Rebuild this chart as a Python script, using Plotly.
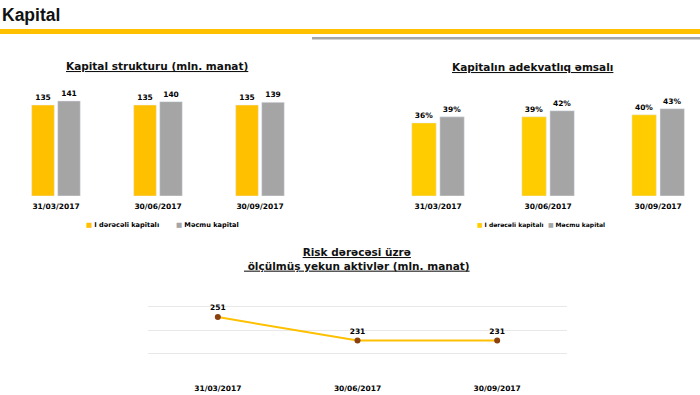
import plotly.graph_objects as go

dates = ["31/03/2017", "30/06/2017", "30/09/2017"]
tier1_capital = [135, 135, 135]
total_capital = [141, 140, 139]
tier1_ratio = [36, 39, 40]
total_ratio = [39, 42, 43]
rwa = [251, 231, 231]
legend_names = ["I dərəcəli kapitalı", "Məcmu kapital"]

W, H = 700, 395
def py(p):
    return 1 - p / H
def px(p):
    return p / W

FONT = "DejaVu Sans"
YEL_L = "#FFC000"
YEL_R = "#FFCC00"
GRAY = "#A5A5A5"
BRN = "#8B4010"
TXT = "#000000"

lblfont = dict(size=7.5, color=TXT, family=FONT)

fig = go.Figure()

# Left: capital structure
fig.add_trace(go.Bar(x=dates, y=tier1_capital, name=legend_names[0], marker_color=YEL_L,
                     text=[f"<b>{v}</b>" for v in tier1_capital], textposition="outside", cliponaxis=False,
                     textfont=lblfont, xaxis="x", yaxis="y", showlegend=False))
fig.add_trace(go.Bar(x=dates, y=total_capital, name=legend_names[1], marker_color=GRAY,
                     text=[f"<b>{v}</b>" for v in total_capital], textposition="outside", cliponaxis=False,
                     textfont=lblfont, xaxis="x", yaxis="y", showlegend=False))

# Right: adequacy ratio
fig.add_trace(go.Bar(x=dates, y=tier1_ratio, name=legend_names[0], marker_color=YEL_R,
                     text=[f"<b>{v}%</b>" for v in tier1_ratio], textposition="outside", cliponaxis=False,
                     textfont=lblfont, xaxis="x2", yaxis="y2", showlegend=False))
fig.add_trace(go.Bar(x=dates, y=total_ratio, name=legend_names[1], marker_color=GRAY,
                     text=[f"<b>{v}%</b>" for v in total_ratio], textposition="outside", cliponaxis=False,
                     textfont=lblfont, xaxis="x2", yaxis="y2", showlegend=False))

# Bottom: risk-weighted assets
fig.add_trace(go.Scatter(x=dates, y=rwa, mode="lines+markers+text", showlegend=False,
                         line=dict(color=YEL_L, width=2), marker=dict(color=BRN, size=6),
                         text=[f"<b>{v}</b>" for v in rwa], textposition="top center", cliponaxis=False,
                         textfont=lblfont, xaxis="x3", yaxis="y3"))

tickfont = dict(size=7.5, color=TXT, family=FONT, weight="bold")
bottom_bar = py(196)

fig.update_layout(
    width=W, height=H, margin=dict(l=0, r=0, t=0, b=0),
    paper_bgcolor="white", plot_bgcolor="white",
    barmode="group", bargap=0.49, bargroupgap=0.13,
    font=dict(family=FONT, color=TXT),
    showlegend=False,
    xaxis=dict(domain=[px(5), px(311)], anchor="y", tickfont=tickfont, showgrid=False,
               showline=False, ticks="", range=[-0.5, 2.5], ticklabelstandoff=4),
    yaxis=dict(domain=[bottom_bar, py(196 - 160 * 0.674)], anchor="x", range=[0, 160],
               visible=False, showgrid=False),
    xaxis2=dict(domain=[px(383), 1.0], anchor="y2", tickfont=tickfont, showgrid=False,
                showline=False, ticks="", range=[-0.5, 2.38], ticklabelstandoff=4),
    yaxis2=dict(domain=[bottom_bar, py(196 - 50 * 2.03)], anchor="x2", range=[0, 50],
                visible=False, showgrid=False),
    xaxis3=dict(domain=[px(148), px(567)], anchor="y3", tickfont=tickfont, showgrid=False,
                showline=False, ticks="", range=[-0.5, 2.5], ticklabelstandoff=5),
    yaxis3=dict(domain=[py(377.6), py(282.4)], anchor="x3", range=[199.5, 280.5], dtick=20, tick0=200,
                showticklabels=False, showgrid=True, gridcolor="#E8E8E8", gridwidth=1,
                zeroline=False, showline=False, ticks=""),
)

# header bands
fig.add_shape(type="rect", xref="paper", yref="paper", x0=0, x1=1, y0=py(34), y1=py(29),
              fillcolor="#FFC000", line_width=0, layer="below")
fig.add_shape(type="rect", xref="paper", yref="paper", x0=px(312), x1=1, y0=py(39.5), y1=py(37),
              fillcolor="#A6A6A6", line_width=0, layer="below")

ann = [
    dict(text="<b>Kapital</b>", x=px(0), y=py(15), xanchor="left", yanchor="middle",
         font=dict(size=17.5, family="Liberation Sans", color="#111")),
    dict(text="<b><u>Kapital strukturu (mln. manat)</u></b>", x=px(157), y=py(66),
         xanchor="center", yanchor="middle", font=dict(size=10.5, family=FONT, color="#111")),
    dict(text="<b><u>Kapitalın adekvatlıq əmsalı</u></b>", x=px(532), y=py(67),
         xanchor="center", yanchor="middle", font=dict(size=10.5, family=FONT, color="#111")),
    dict(text="<b><u>Risk dərəcəsi üzrə</u></b><br><b><u> ölçülmüş yekun aktivlər (mln. manat)</u></b>",
         x=px(357), y=py(259), xanchor="center", yanchor="middle",
         font=dict(size=10.5, family=FONT, color="#111")),
]
# legends
for (x0, x1, ycol, fs) in [(84, 174, YEL_L, 6.6), (475, 546, YEL_R, 6.0)]:
    for xpos, col, name in [(x0, ycol, legend_names[0]), (x1, GRAY, legend_names[1])]:
        ann.append(dict(text=f"<span style='color:{col}'>■</span> <b>{name}</b>",
                        x=px(xpos), y=py(225), xanchor="left", yanchor="middle",
                        font=dict(size=fs, family=FONT, color=TXT)))
for a in ann:
    a.update(xref="paper", yref="paper", showarrow=False)
    fig.add_annotation(**a)

fig.write_html("out.html", config={"displayModeBar": False},
               post_script="document.body.style.margin='0';document.body.style.padding='0';")
